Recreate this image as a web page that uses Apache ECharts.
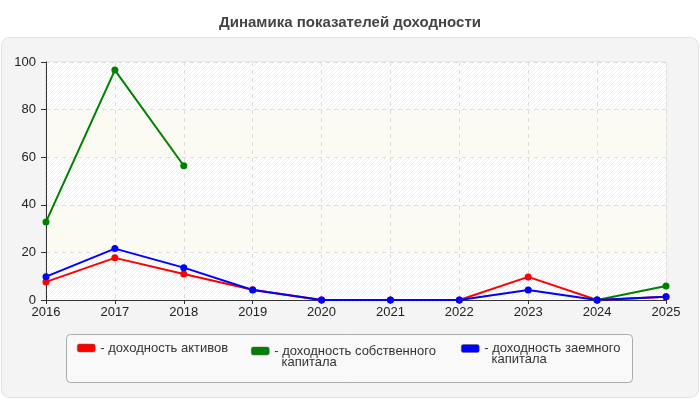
<!DOCTYPE html>
<html>
<head>
<meta charset="utf-8">
<script src="https://cdn.jsdelivr.net/npm/echarts@6/dist/echarts.min.js"></script>
<style>
  html, body { margin: 0; padding: 0; background: #fff; }
  #main { width: 700px; height: 400px; }
</style>
</head>
<body>
<div id="main"></div>
<script>
var years = ['2016', '2017', '2018', '2019', '2020', '2021', '2022', '2023', '2024', '2025'];
var seriesNames = ['доходность активов', 'доходность собственного капитала', 'доходность заемного капитала'];
// пустая первая строка, чтобы значок стоял у первой строки подписи
var legendLabels = ['- доходность активов', ' \n- доходность собственного\n  капитала', ' \n- доходность заемного\n  капитала'];
var activesData = [7.6, 17.7, 10.9, 4.3, 0, 0, 0, 9.7, 0, 1.4];
var ownData = [32.8, 96.6, 56.4, null, null, null, null, null, 0, 5.9];
var borrowedData = [9.8, 21.6, 13.6, 4.2, 0, 0, 0, 4.2, 0, 1.4];
var colors = ['#ff0000', '#008000', '#0000ff'];

// диагональная штриховка для полос
var hatch = document.createElement('canvas');
hatch.width = 4;
hatch.height = 4;
var hctx = hatch.getContext('2d');
hctx.fillStyle = '#ffffff';
hctx.fillRect(0, 0, 4, 4);
hctx.fillStyle = '#eeeeee';
for (var i = 0; i < 4; i++) {
    hctx.fillRect(i, 3 - i, 1, 1);
}

var font = "'Liberation Sans', Arial, sans-serif";
var myChart = echarts.init(document.getElementById('main'));

function makeSeries(idx, data) {
    return {
        name: seriesNames[idx],
        type: 'line',
        data: data,
        connectNulls: false,
        symbol: 'circle',
        symbolSize: 7,
        color: colors[idx],
        lineStyle: { width: 2, color: colors[idx] },
        itemStyle: { color: colors[idx] },
        emphasis: { disabled: true },
        animation: false
    };
}

function makeLegend(idx, left, top) {
    return {
        left: left,
        top: top,
        padding: 0,
        icon: 'roundRect',
        itemWidth: 18,
        itemHeight: 8,
        selectedMode: false,
        data: [{ name: seriesNames[idx], itemStyle: { color: colors[idx], borderColor: '#666', borderWidth: 0.5 } }],
        formatter: function () { return legendLabels[idx]; },
        textStyle: {
            fontFamily: font,
            fontSize: 13,
            color: '#333',
            lineHeight: 11
        }
    };
}

var option = {
    backgroundColor: '#fff',
    animation: false,
    title: {
        text: 'Динамика показателей доходности',
        left: 'center',
        top: 10,
        textStyle: { fontFamily: font, fontSize: 15, fontWeight: 'bold', color: '#444' }
    },
    graphic: [
        {
            type: 'rect', z: -10,
            shape: { x: 1.5, y: 37.5, width: 697, height: 360, r: 8 },
            style: { fill: '#f4f4f4', stroke: '#e2e2e2', lineWidth: 1 }
        },
        {
            type: 'rect', z: -9,
            shape: { x: 66.5, y: 334.5, width: 566, height: 48, r: 4 },
            style: { fill: '#f9f9f9', stroke: '#aaaaaa', lineWidth: 1 }
        }
    ],
    legend: [
        makeLegend(0, 77, 341.5),
        makeLegend(1, 251, 333.5),
        makeLegend(2, 461, 331)
    ],
    grid: {
        left: 46,
        right: 34,
        top: 62,
        bottom: 100,
        show: true,
        backgroundColor: '#fff',
        borderColor: '#dddddd',
        borderWidth: 1
    },
    xAxis: {
        type: 'category',
        boundaryGap: false,
        data: years,
        axisLine: { lineStyle: { color: '#333', width: 1 } },
        axisTick: { show: true, length: 4, alignWithLabel: true, lineStyle: { color: '#333' } },
        axisLabel: { fontFamily: font, fontSize: 13, color: '#222', margin: 6 },
        splitLine: { show: true, lineStyle: { color: '#dddddd', type: [4, 4] } }
    },
    yAxis: {
        type: 'value',
        min: 0,
        max: 100,
        interval: 20,
        axisLine: { show: true, lineStyle: { color: '#333', width: 1 } },
        axisTick: { show: true, length: 5, lineStyle: { color: '#333' } },
        axisLabel: { fontFamily: font, fontSize: 13, color: '#222', margin: 10 },
        splitLine: { show: true, lineStyle: { color: '#dddddd', type: [4, 4] } },
        splitArea: {
            show: true,
            areaStyle: { color: [{ image: hatch, repeat: 'repeat' }, '#fbfbf3'] }
        }
    },
    series: [
        makeSeries(0, activesData),
        makeSeries(1, ownData),
        makeSeries(2, borrowedData)
    ]
};

myChart.setOption(option);
</script>
</body>
</html>
